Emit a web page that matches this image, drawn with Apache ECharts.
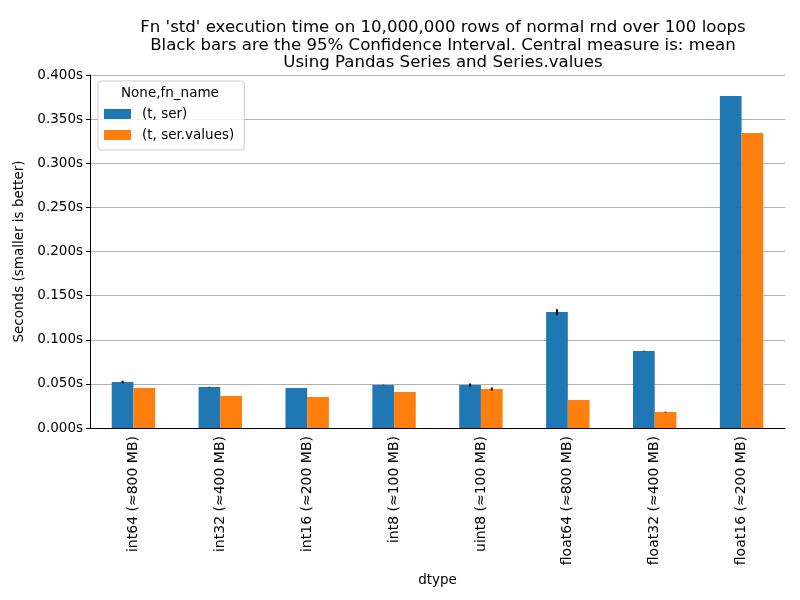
<!DOCTYPE html>
<html>
<head>
<meta charset="utf-8">
<script src="https://cdn.jsdelivr.net/npm/echarts@6/dist/echarts.min.js"></script>
<style>
  html, body { margin: 0; padding: 0; background: #fff; }
  #chart { width: 800px; height: 600px; }
</style>
</head>
<body>
<div id="chart"></div>
<script>
const categories = [
    'int64 (≈800 MB)', 'int32 (≈400 MB)', 'int16 (≈200 MB)', 'int8 (≈100 MB)',
    'uint8 (≈100 MB)', 'float64 (≈800 MB)', 'float32 (≈400 MB)', 'float16 (≈200 MB)'
];
const serMean = [0.0521, 0.0465, 0.0453, 0.0487, 0.0487, 0.1314, 0.0873, 0.3762];
const serErr = [0.0015, 0.0003, 0, 0.0003, 0.0017, 0.0032, 0.0003, 0];
const valuesMean = [0.0453, 0.0363, 0.0351, 0.0408, 0.0442, 0.0317, 0.0181, 0.3343];
const valuesErr = [0, 0, 0, 0, 0.0017, 0, 0.0004, 0];
const yTicks = { min: 0, max: 0.4, interval: 0.05 };

const FONT = 'DejaVu Sans';
const chart = echarts.init(document.getElementById('chart'));

// black CI line drawn over a bar; side -1 = left bar, +1 = right bar
function errorSeries(name, means, errs, side) {
    return {
        name: name + ' ci',
        type: 'custom',
        z: 10,
        silent: true,
        data: means.map((m, i) => [i, m - errs[i], m + errs[i], errs[i]]),
        renderItem: (params, api) => {
            if (!api.value(3)) return null;
            const band = api.size([1, 0])[0];
            const lo = api.coord([api.value(0), api.value(1)]);
            const hi = api.coord([api.value(0), api.value(2)]);
            const x = lo[0] + side * band * 0.125;
            return {
                type: 'line',
                shape: { x1: x, y1: lo[1], x2: x, y2: hi[1] },
                style: { stroke: '#000', lineWidth: 2 }
            };
        }
    };
}

chart.setOption({
    animation: false,
    textStyle: { fontFamily: FONT },
    title: {
        text: "Fn 'std' execution time on 10,000,000 rows of normal rnd over 100 loops\n" +
              "Black bars are the 95% Confidence Interval. Central measure is: mean\n" +
              "Using Pandas Series and Series.values",
        left: 438,
        textAlign: 'center',
        top: 14,
        textStyle: { fontFamily: FONT, fontSize: 16.6, fontWeight: 'normal', color: '#000', lineHeight: 17.5 }
    },
    grid: { left: 90, right: 15, top: 75, bottom: 172 },
    legend: {
        orient: 'vertical',
        left: 98,
        top: 81,
        padding: [26, 10, 8, 6],
        backgroundColor: 'rgba(255,255,255,0.8)',
        borderColor: '#cccccc',
        borderWidth: 1,
        borderRadius: 3,
        itemWidth: 27,
        itemHeight: 10,
        itemGap: 7,
        icon: 'rect',
        data: ['(t, ser)', '(t, ser.values)'],
        textStyle: { fontFamily: FONT, fontSize: 13.5, color: '#000', padding: [0, 0, 0, 6] }
    },
    graphic: [{
        type: 'text',
        left: 121,
        top: 86,
        z: 100,
        style: { text: 'None,fn_name', font: '13.5px "DejaVu Sans"', fill: '#000' }
    }],
    xAxis: {
        type: 'category',
        data: categories,
        name: 'dtype',
        nameLocation: 'middle',
        nameGap: 144,
        nameTextStyle: { fontFamily: FONT, fontSize: 13.5, color: '#000' },
        axisLine: { lineStyle: { color: '#000', width: 1 } },
        axisTick: { alignWithLabel: true, length: 4, lineStyle: { color: '#000' } },
        axisLabel: { rotate: 90, fontFamily: FONT, fontSize: 14, color: '#000', margin: 8 }
    },
    yAxis: {
        type: 'value',
        min: yTicks.min,
        max: yTicks.max,
        interval: yTicks.interval,
        name: 'Seconds (smaller is better)',
        nameLocation: 'middle',
        nameGap: 62,
        nameTextStyle: { fontFamily: FONT, fontSize: 13.5, color: '#000' },
        axisLine: { show: true, lineStyle: { color: '#000', width: 1 } },
        axisTick: { show: true, length: 4, lineStyle: { color: '#000' } },
        axisLabel: {
            fontFamily: FONT, fontSize: 13.5, color: '#000', margin: 7,
            formatter: v => v.toFixed(3) + 's'
        },
        splitLine: { show: true, lineStyle: { color: '#b0b0b0', width: 1 } }
    },
    series: [
        {
            name: '(t, ser)',
            type: 'bar',
            data: serMean,
            barWidth: '25%',
            barGap: '0%',
            itemStyle: { color: '#1f77b4' }
        },
        {
            name: '(t, ser.values)',
            type: 'bar',
            data: valuesMean,
            barWidth: '25%',
            barGap: '0%',
            itemStyle: { color: '#ff7f0e' }
        },
        errorSeries('(t, ser)', serMean, serErr, -1),
        errorSeries('(t, ser.values)', valuesMean, valuesErr, 1)
    ]
});
</script>
</body>
</html>
